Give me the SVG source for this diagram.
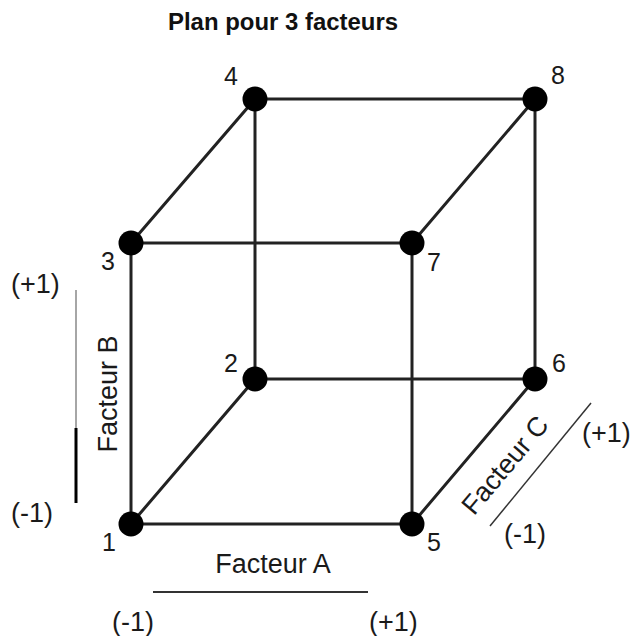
<svg xmlns="http://www.w3.org/2000/svg" width="633" height="636" viewBox="0 0 633 636">
<style>
.edge{stroke:#222;stroke-width:3;fill:none;stroke-linecap:round}
.dot{fill:#000}
.lbl{font-family:"Liberation Sans",Arial,sans-serif;font-size:25px;fill:#1a1a1a}
.axis{font-family:"Liberation Sans",Arial,sans-serif;font-size:27px;fill:#1a1a1a}
.title{font-family:"Liberation Sans",Arial,sans-serif;font-size:23px;font-weight:bold;fill:#111}
.ax{stroke:#333;stroke-width:2;fill:none}
</style>
<rect width="633" height="636" fill="#fff"/>
<text class="title" x="168" y="30" textLength="230" lengthAdjust="spacingAndGlyphs">Plan pour 3 facteurs</text>
<g id="connectors">
<line class="edge" x1="255" y1="99" x2="535" y2="99"/>
<line class="edge" x1="535" y1="99" x2="535" y2="379"/>
<line class="edge" x1="535" y1="379" x2="255" y2="379"/>
<line class="edge" x1="255" y1="379" x2="255" y2="99"/>
<line class="edge" x1="131" y1="243" x2="412" y2="243"/>
<line class="edge" x1="412" y1="243" x2="412" y2="524"/>
<line class="edge" x1="412" y1="524" x2="131" y2="524"/>
<line class="edge" x1="131" y1="524" x2="131" y2="243"/>
<line class="edge" x1="131" y1="524" x2="255" y2="379"/>
<line class="edge" x1="131" y1="243" x2="255" y2="99"/>
<line class="edge" x1="412" y1="243" x2="535" y2="99"/>
<line class="edge" x1="412" y1="524" x2="535" y2="379"/>
</g>
<g id="n1"><circle class="dot" cx="131" cy="524" r="12.5"/><text class="lbl" x="102" y="551">1</text></g>
<g id="n2"><circle class="dot" cx="255" cy="379" r="12.5"/><text class="lbl" x="224" y="372">2</text></g>
<g id="n3"><circle class="dot" cx="131" cy="243" r="12.5"/><text class="lbl" x="101" y="270">3</text></g>
<g id="n4"><circle class="dot" cx="255" cy="99" r="12.5"/><text class="lbl" x="224" y="85">4</text></g>
<g id="n5"><circle class="dot" cx="412" cy="524" r="12.5"/><text class="lbl" x="427" y="551">5</text></g>
<g id="n6"><circle class="dot" cx="535" cy="379" r="12.5"/><text class="lbl" x="552" y="372">6</text></g>
<g id="n7"><circle class="dot" cx="412" cy="243" r="12.5"/><text class="lbl" x="427" y="271">7</text></g>
<g id="n8"><circle class="dot" cx="535" cy="99" r="12.5"/><text class="lbl" x="551" y="84">8</text></g>
<g id="axisA">
<line class="ax" x1="153" y1="592" x2="368" y2="592"/>
<text class="axis" x="273" y="573" text-anchor="middle">Facteur A</text>
<text class="axis" x="112" y="631">(-1)</text>
<text class="axis" x="369" y="631">(+1)</text>
</g>
<g id="axisB">
<line x1="76" y1="290" x2="76" y2="428" stroke="#888" stroke-width="1.5"/>
<line x1="76" y1="428" x2="76" y2="503" stroke="#000" stroke-width="3"/>
<text class="axis" x="117" y="394" text-anchor="middle" transform="rotate(-90 117 394)">Facteur B</text>
<text class="axis" x="11" y="293">(+1)</text>
<text class="axis" x="11" y="522">(-1)</text>
</g>
<g id="axisC">
<line x1="490" y1="526" x2="591" y2="403" stroke="#333" stroke-width="1.5"/>
<text class="axis" x="512" y="471" text-anchor="middle" transform="rotate(-50 512 471)">Facteur C</text>
<text class="axis" x="582" y="442">(+1)</text>
<text class="axis" x="504" y="543">(-1)</text>
</g>
</svg>
